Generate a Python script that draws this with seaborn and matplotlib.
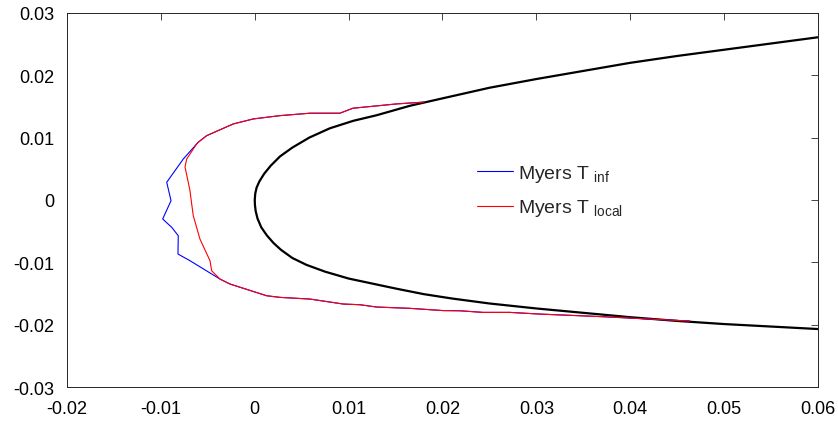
import numpy as np
import pandas as pd
import matplotlib
matplotlib.use("Agg")
import matplotlib.pyplot as plt
import seaborn as sns

# clean airfoil contour: upper surface from x=0.06 to the leading edge, then lower surface
airfoil_x = [0.0600, 0.0550, 0.0500, 0.0450, 0.0400, 0.0350, 0.0300, 0.0250, 0.0200, 0.0165,
             0.0130, 0.0105, 0.0080, 0.0058, 0.0040, 0.0027, 0.0017, 0.0010, 0.0005, 0.0002,
             0.00005, 0.0000,
             0.00002, 0.0001, 0.0003, 0.0007, 0.0013, 0.0020, 0.0028, 0.0040, 0.0055, 0.0075,
             0.0100, 0.0125, 0.0150, 0.0180, 0.0210, 0.0250, 0.0300, 0.0350, 0.0400, 0.0450,
             0.0500, 0.0550, 0.0600]
airfoil_y = [0.0261, 0.0251, 0.0241, 0.0231, 0.0220, 0.0207, 0.0194, 0.0180, 0.0163, 0.0151,
             0.0136, 0.0127, 0.0115, 0.0100, 0.0084, 0.0070, 0.0055, 0.0042, 0.0030, 0.0020,
             0.0010, 0.0000,
             -0.0008, -0.0018, -0.0030, -0.0044, -0.0057, -0.0069, -0.0080, -0.0093, -0.0104, -0.0115,
             -0.0126, -0.0134, -0.0142, -0.0151, -0.0158, -0.0166, -0.0174, -0.0181, -0.0188, -0.0194,
             -0.0199, -0.0203, -0.0207]

# shared upper ice surface
upper_x = [0.0180, 0.01511, 0.01046, 0.00907, 0.00588, 0.00268, -0.00016, -0.00229, -0.00512, -0.00602]
upper_y = [0.0157, 0.01541, 0.01472, 0.01392, 0.01392, 0.01353, 0.0130, 0.0122, 0.01032, 0.00926]

# shared lower ice surface
lower_x = [-0.00264, 0.00127, 0.00268, 0.00588, 0.00943, 0.0112, 0.01298, 0.01653, 0.02007,
           0.02185, 0.02433, 0.02718, 0.03037, 0.03676, 0.04209, 0.04635]
lower_y = [-0.01348, -0.01536, -0.01562, -0.01589, -0.01669, -0.0168, -0.01717, -0.01738, -0.01774,
           -0.01777, -0.01803, -0.01803, -0.0183, -0.0187, -0.0191, -0.01942]

# leading-edge part of each ice shape
tinf_le_x = [-0.00619, -0.00761, -0.00938, -0.00892, -0.00981, -0.00885, -0.00815, -0.00818, -0.0069, -0.00371]
tinf_le_y = [0.00899, 0.00658, 0.00284, -0.00011, -0.00305, -0.00438, -0.00573, -0.00867, -0.00974, -0.01268]
tloc_le_x = [-0.00619, -0.00725, -0.00743, -0.0069, -0.00672, -0.00655, -0.00584, -0.00477, -0.00459, -0.00371]
tloc_le_y = [0.00899, 0.00658, 0.0053, 0.00149, -0.00064, -0.00252, -0.00626, -0.00974, -0.01135, -0.01268]

tinf = pd.DataFrame({"x": upper_x + tinf_le_x + lower_x, "y": upper_y + tinf_le_y + lower_y})
tloc = pd.DataFrame({"x": upper_x + tloc_le_x + lower_x, "y": upper_y + tloc_le_y + lower_y})
wing = pd.DataFrame({"x": airfoil_x, "y": airfoil_y})

sns.set_theme(style="white")
plt.rcParams["font.family"] = ["Liberation Sans", "DejaVu Sans"]
plt.rcParams["mathtext.fontset"] = "custom"
plt.rcParams["mathtext.rm"] = "Liberation Sans"

fig = plt.figure(figsize=(8.38, 4.27), dpi=100)
ax = fig.add_axes([0.080, 0.0913, 0.896, 0.876])

sns.lineplot(data=wing, x="x", y="y", sort=False, estimator=None, color="black", lw=1.6, ax=ax)
sns.lineplot(data=tinf, x="x", y="y", sort=False, estimator=None, color="#0000ff", lw=0.8,
             ax=ax, label=r"Myers T$\;_{\rm inf}$")
sns.lineplot(data=tloc, x="x", y="y", sort=False, estimator=None, color="#ff0000", lw=0.8,
             ax=ax, label=r"Myers T$\;_{\rm local}$")

ax.set_xlim(-0.02, 0.06)
ax.set_ylim(-0.03, 0.03)
ax.set_xticks(np.arange(-0.02, 0.061, 0.01))
ax.set_yticks(np.arange(-0.03, 0.031, 0.01))
fmt = lambda v: "0" if abs(v) < 1e-9 else f"{v:.2f}"
ax.set_xticklabels([fmt(v) for v in ax.get_xticks()])
ax.set_yticklabels([fmt(v) for v in ax.get_yticks()])
ax.set_xlabel("")
ax.set_ylabel("")
ax.tick_params(direction="in", length=5, width=0.6, color="#262626", labelsize=13,
               top=True, right=True, labelcolor="black")
ax.tick_params(axis="x", pad=9)
ax.tick_params(axis="y", pad=9)
for s in ax.spines.values():
    s.set_color("#262626")
    s.set_linewidth(0.7)

ax.legend(loc="center left", bbox_to_anchor=(0.546, 0.525), frameon=False, fontsize=14,
          handlelength=1.85, handletextpad=0.25, labelspacing=0.7, borderpad=0, borderaxespad=0)

fig.savefig("out.png", dpi=100)
